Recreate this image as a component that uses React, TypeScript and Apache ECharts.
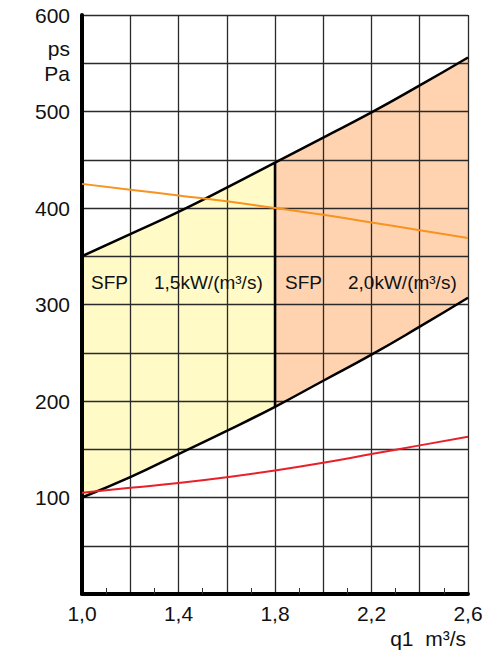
import React, { useEffect, useRef } from "react";
import * as echarts from "echarts";

const qValues = [1.0, 1.2, 1.4, 1.6, 1.8, 2.0, 2.2, 2.4, 2.6];
const upperBound = [350, 373, 396, 421, 447, 473, 499, 527, 556];
const lowerBound = [100, 121, 145, 169, 194, 221, 248, 277, 307];
const orangeCurve = [425, 419, 413, 407, 400, 393, 385, 377, 369];
const redCurve = [105, 110, 115, 121, 128, 136, 145, 154, 163];
const zoneSplit = 1.8;
const zoneLabels = ["SFP     1,5kW/(m³/s)", "SFP     2,0kW/(m³/s)"];
const xTickLabels = ["1,0", "1,4", "1,8", "2,2", "2,6"];

const FONT = "Liberation Sans, Arial, sans-serif";

export default function App() {
  const ref = useRef<HTMLDivElement>(null);
  useEffect(() => {
    document.body.style.margin = "0";
    const chart = echarts.init(ref.current!, undefined, { renderer: "svg" });
    const pts = (ys: number[]) => qValues.map((q, i) => [q, ys[i]]);
    const splitIdx = qValues.indexOf(zoneSplit);

    const zoneSeries = (from: number, to: number, color: string) => ({
      type: "custom",
      z: 1,
      silent: true,
      data: [[0]],
      renderItem: (_p: any, api: any) => {
        const top: number[][] = [];
        const bot: number[][] = [];
        for (let i = from; i <= to; i++) {
          top.push(api.coord([qValues[i], upperBound[i]]));
          bot.push(api.coord([qValues[i], lowerBound[i]]));
        }
        return {
          type: "polygon",
          shape: { points: top.concat(bot.reverse()), smooth: 0 },
          style: { fill: color, stroke: "none" },
        };
      },
    });

    chart.setOption({
      animation: false,
      grid: { left: 82, right: 26, top: 15, bottom: 60 },
      xAxis: {
        type: "value",
        min: 1.0,
        max: 2.6,
        interval: 0.2,
        z: 3,
        axisLine: { show: true, onZero: false, lineStyle: { color: "#000", width: 4 } },
        axisTick: { show: false },
        minorTick: { show: true, splitNumber: 2, length: -6, lineStyle: { color: "#333", width: 1 } },
        splitLine: { show: true, lineStyle: { color: "#2a2a2a", width: 1.3 } },
        axisLabel: {
          margin: 9,
          color: "#111",
          fontSize: 21,
          fontFamily: FONT,
          formatter: (v: number) => {
            const s = v.toFixed(1).replace(".", ",");
            return xTickLabels.includes(s) ? s : "";
          },
        },
      },
      yAxis: {
        type: "value",
        min: 0,
        max: 600,
        interval: 50,
        z: 3,
        axisLine: { show: true, lineStyle: { color: "#000", width: 4 } },
        axisTick: { show: false },
        splitLine: { show: true, lineStyle: { color: "#2a2a2a", width: 1.3 } },
        axisLabel: {
          margin: 12,
          color: "#111",
          fontSize: 21,
          fontFamily: FONT,
          formatter: (v: number) => (v > 0 && v % 100 === 0 ? String(v) : ""),
        },
      },
      series: [
        zoneSeries(0, splitIdx, "#FFFAC6"),
        zoneSeries(splitIdx, qValues.length - 1, "#FFD3B0"),
        {
          type: "line",
          z: 5,
          data: pts(upperBound),
          smooth: true,
          symbol: "none",
          lineStyle: { color: "#000", width: 2.5 },
        },
        {
          type: "line",
          z: 5,
          data: pts(lowerBound),
          smooth: true,
          symbol: "none",
          lineStyle: { color: "#000", width: 2.5 },
        },
        {
          type: "line",
          z: 5,
          data: [
            [zoneSplit, lowerBound[splitIdx]],
            [zoneSplit, upperBound[splitIdx]],
          ],
          symbol: "none",
          lineStyle: { color: "#000", width: 2.5 },
        },
        {
          type: "line",
          z: 6,
          data: pts(orangeCurve),
          smooth: true,
          symbol: "none",
          lineStyle: { color: "#F7931E", width: 2 },
        },
        {
          type: "line",
          z: 6,
          data: pts(redCurve),
          smooth: true,
          symbol: "none",
          lineStyle: { color: "#E8202A", width: 2 },
        },
      ],
      graphic: [
        { type: "text", left: 91, top: 273, z: 10, style: { text: zoneLabels[0], fontSize: 19, fontFamily: FONT, fill: "#111" } },
        { type: "text", left: 285, top: 273, z: 10, style: { text: zoneLabels[1], fontSize: 19, fontFamily: FONT, fill: "#111" } },
        { type: "text", right: 424, top: 38, z: 10, style: { text: "ps", fontSize: 21, fontFamily: FONT, fill: "#111", align: "right" } },
        { type: "text", right: 424, top: 63, z: 10, style: { text: "Pa", fontSize: 21, fontFamily: FONT, fill: "#111", align: "right" } },
        { type: "text", right: 28, top: 628, z: 10, style: { text: "q1  m³/s", fontSize: 21, fontFamily: FONT, fill: "#111" } },
      ],
    });
    return () => chart.dispose();
  }, []);
  return <div ref={ref} style={{ width: 494, height: 654 }} />;
}
